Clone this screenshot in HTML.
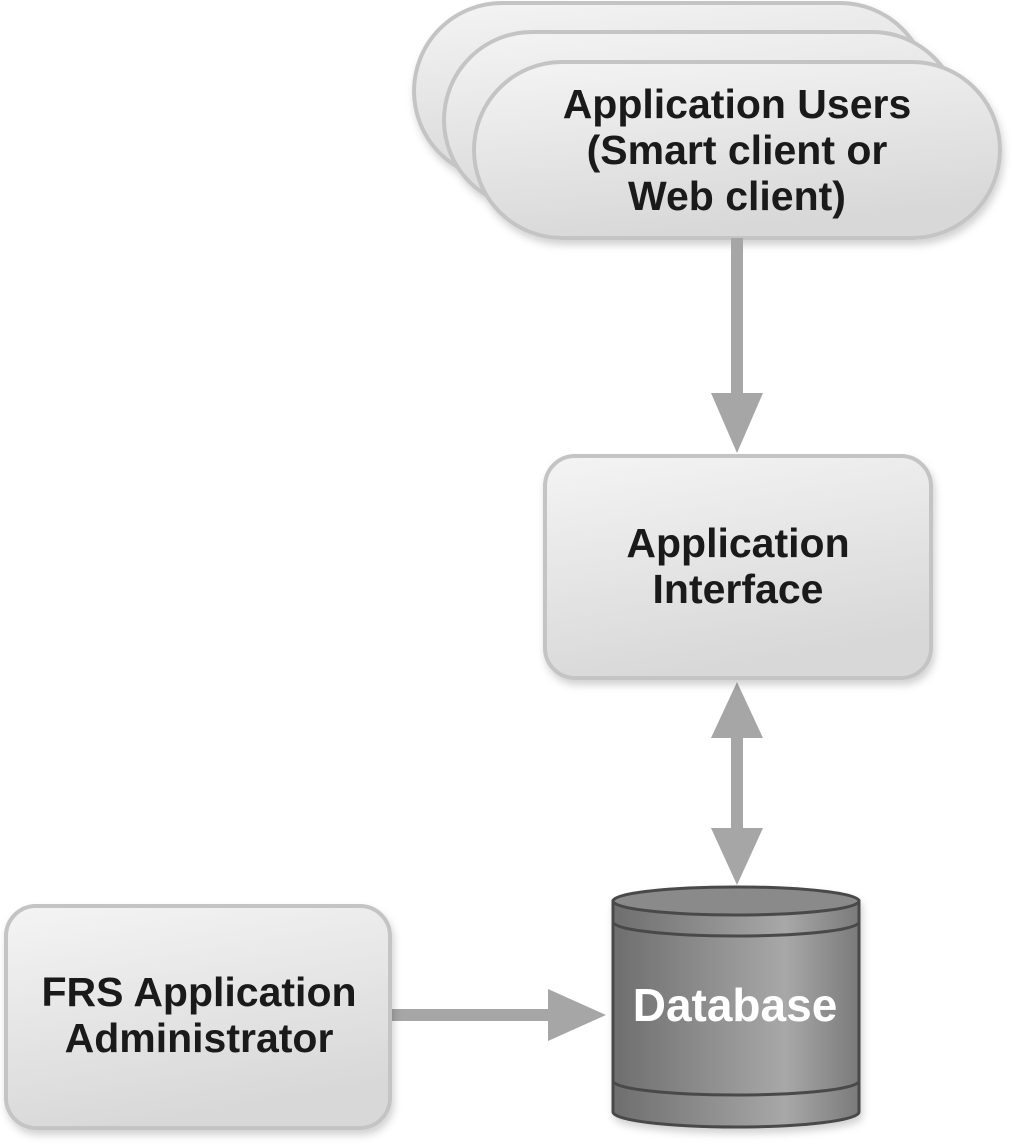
<!DOCTYPE html>
<html><head><meta charset="utf-8"><style>
html,body{margin:0;padding:0;background:#fff;}
svg{display:block;}
text{font-family:"Liberation Sans",Arial,sans-serif;font-weight:bold;}
</style></head><body>
<svg width="1015" height="1144" viewBox="0 0 1015 1144" xmlns="http://www.w3.org/2000/svg">
<defs>
<linearGradient id="g" x1="0" y1="0" x2="0.3" y2="1">
<stop offset="0" stop-color="#f4f4f4"/><stop offset="1" stop-color="#d8d8d8"/>
</linearGradient>
<linearGradient id="cyl" x1="0" y1="0" x2="1" y2="0">
<stop offset="0" stop-color="#6e6e6e"/><stop offset="0.7" stop-color="#a8a8a8"/><stop offset="1" stop-color="#7a7a7a"/>
</linearGradient>
<filter id="sh" x="-10%" y="-10%" width="120%" height="130%"><feDropShadow dx="2" dy="5" stdDeviation="4" flood-color="#000" flood-opacity="0.18"/></filter>
</defs>
<g fill="url(#g)" stroke="#c4c4c4" stroke-width="4" filter="url(#sh)">
<rect x="414" y="3" width="514" height="176" rx="88"/>
<rect x="444" y="32" width="516" height="176" rx="88"/>
<rect x="474" y="62" width="526" height="176" rx="88"/>
</g>
<g font-size="41" fill="#1a1a1a" text-anchor="middle">
<text x="737" y="118">Application Users</text>
<text x="737" y="164">(Smart client or</text>
<text x="737" y="210">Web client)</text>
</g>
<g fill="#a6a6a6" stroke="none">
<rect x="731" y="238" width="12" height="160"/>
<polygon points="711,393 763,393 737,453"/>
<rect x="731" y="730" width="12" height="110"/>
<polygon points="711,738 763,738 737,682"/>
<polygon points="711,828 763,828 737,885"/>
<rect x="390" y="1009" width="170" height="12"/>
<polygon points="548,989 548,1041 606,1015"/>
</g>
<rect x="545" y="456" width="386" height="222" rx="30" fill="url(#g)" stroke="#c4c4c4" stroke-width="4" filter="url(#sh)"/>
<g font-size="41" fill="#1a1a1a" text-anchor="middle">
<text x="738" y="557">Application</text>
<text x="738" y="603">Interface</text>
</g>
<rect x="6" y="906" width="384" height="222" rx="30" fill="url(#g)" stroke="#c4c4c4" stroke-width="4" filter="url(#sh)"/>
<g font-size="41" fill="#1a1a1a" text-anchor="middle">
<text x="199" y="1006">FRS Application</text>
<text x="199" y="1052">Administrator</text>
</g>
<g filter="url(#sh)" stroke="#4a4a4a" stroke-width="3">
<path d="M613,901 L613,1112 A123,15 0 0 0 859,1112 L859,901 Z" fill="url(#cyl)"/>
<ellipse cx="736" cy="901" rx="123" ry="14" fill="#8a8a8a"/>
<path d="M613,922 A123,14 0 0 0 859,922" fill="none"/>
<path d="M613,1081 A123,14 0 0 0 859,1081" fill="none"/>
</g>
<text x="735" y="1021" font-size="46" fill="#fff" text-anchor="middle">Database</text>
</svg>
</body></html>
